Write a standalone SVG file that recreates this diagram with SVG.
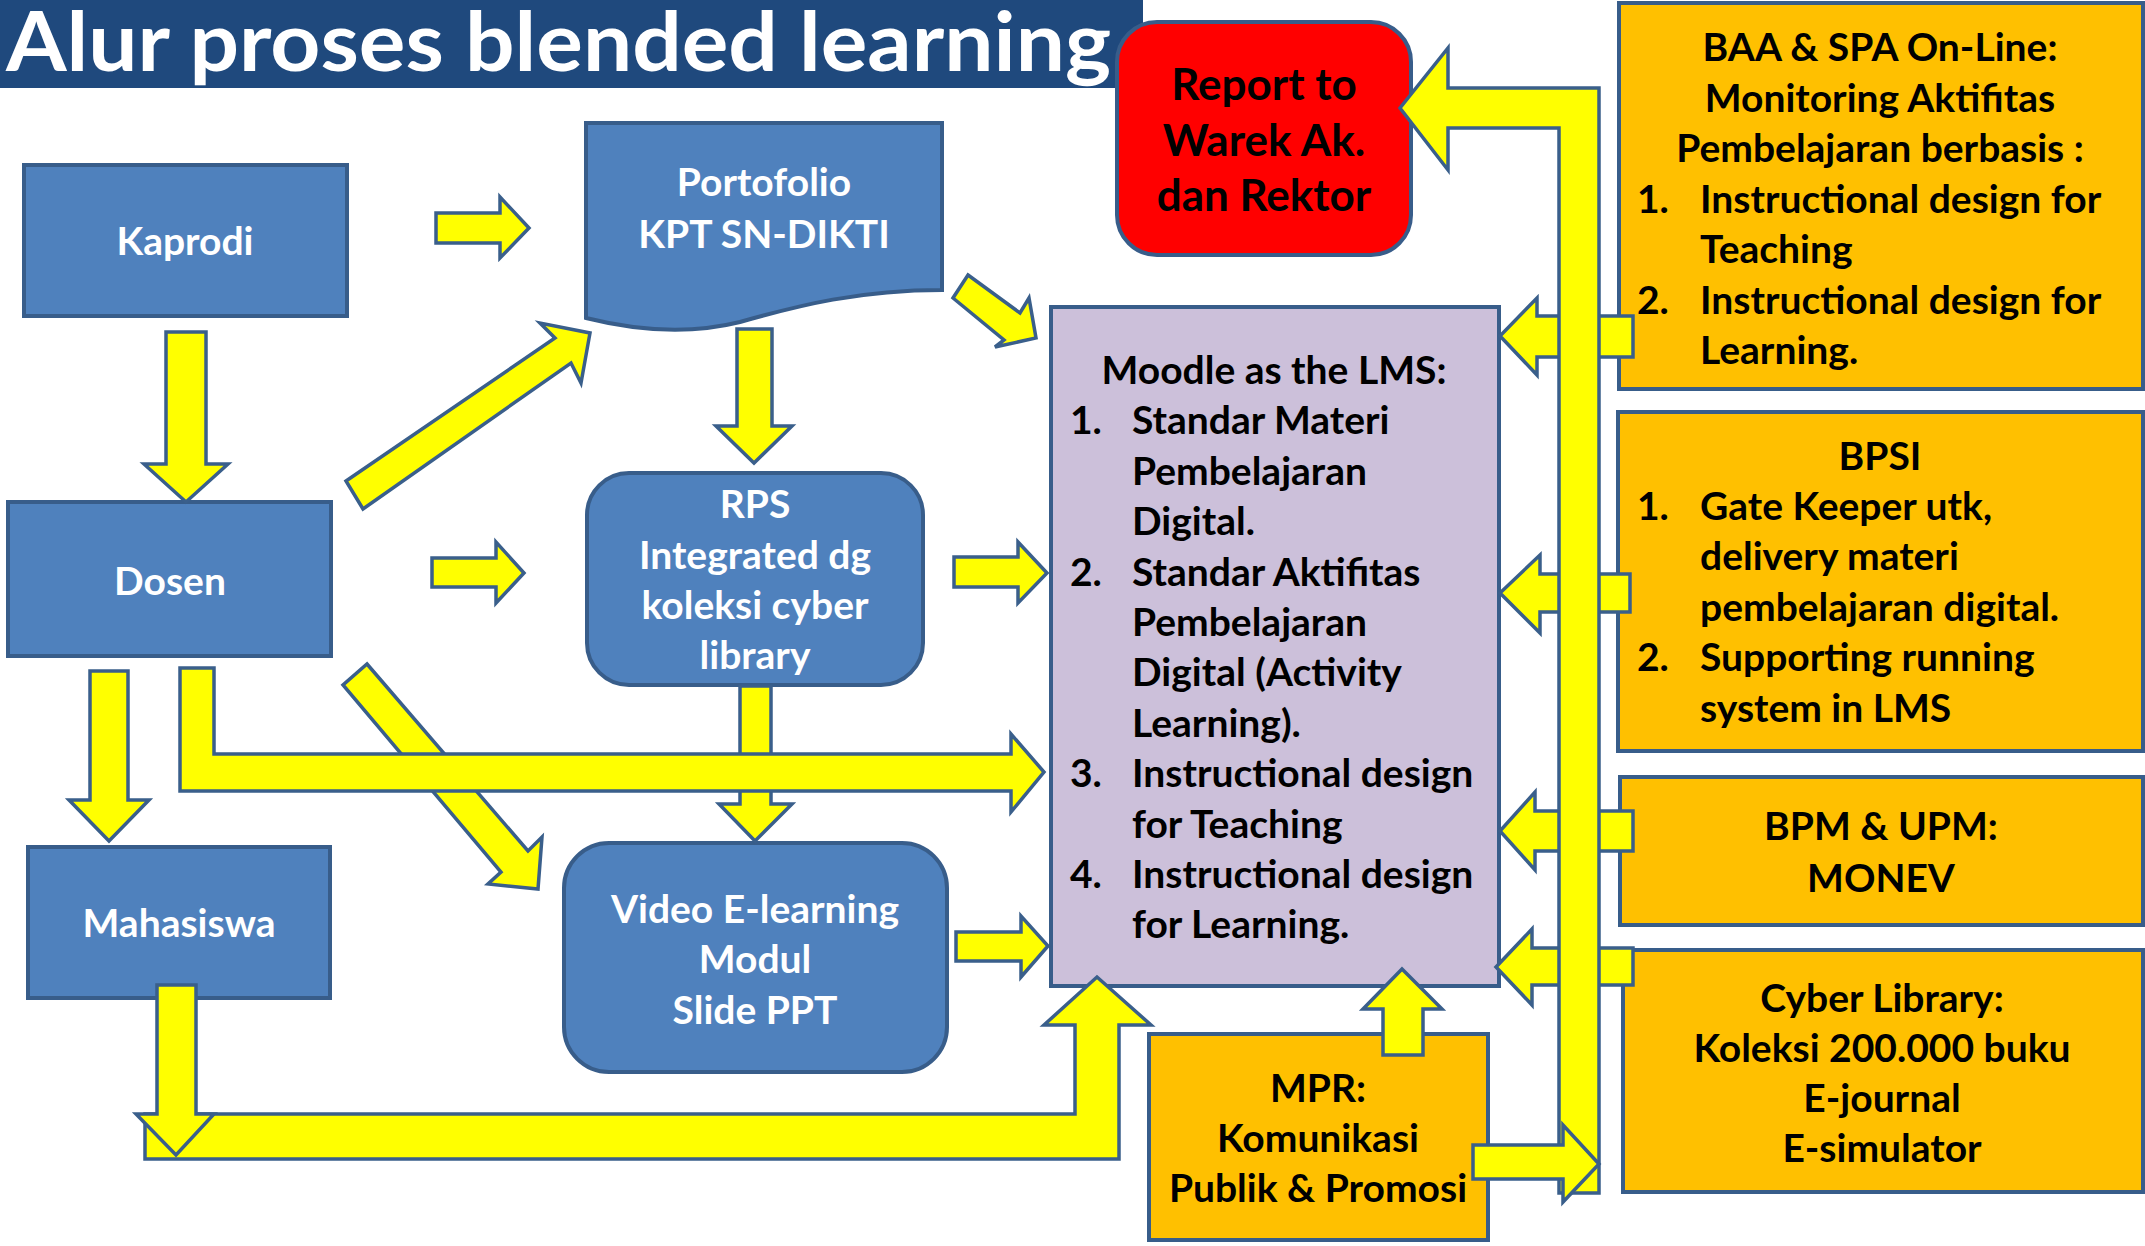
<svg xmlns="http://www.w3.org/2000/svg" width="2145" height="1246" viewBox="0 0 2145 1246">
<style>
.nb{fill:#4F81BD;stroke:#385D8A;stroke-width:4}
.nr{fill:#FF0000;stroke:#385D8A;stroke-width:4}
.nl{fill:#CCC0DA;stroke:#385D8A;stroke-width:4}
.no{fill:#FFC000;stroke:#385D8A;stroke-width:4}
.ar{fill:#FFFF00;stroke:#3A5F8B;stroke-width:3.5;stroke-linejoin:miter}
text{font-family:Lato,"Open Sans","Liberation Sans",sans-serif;font-weight:700;font-size:39px}
.w{fill:#FFFFFF;text-anchor:middle}
.k{fill:#000000}
.c{text-anchor:middle}
</style>
<rect x="0" y="0" width="1143" height="88" fill="#1F497D"/>
<text x="6" y="71" fill="#FFFFFF" style="font-size:83px" textLength="1105" lengthAdjust="spacingAndGlyphs">Alur proses blended learning</text>

<g id="kaprodi">
<rect class="nb" x="24" y="165" width="323" height="151"/>
<text class="w" x="185" y="255">Kaprodi</text>
</g>
<g id="portofolio">
<path class="nb" d="M586,123 H942 V290 C860,290 800,305 740,322 C700,332 650,334 586,318 Z"/>
<text class="w" x="764" y="196">Portofolio</text>
<text class="w" x="764" y="248">KPT SN-DIKTI</text>
</g>
<g id="dosen">
<rect class="nb" x="8" y="502" width="323" height="154"/>
<text class="w" x="170" y="595">Dosen</text>
</g>
<g id="rps">
<rect class="nb" x="587" y="473" width="336" height="212" rx="42" ry="42"/>
<text class="w" x="755" y="518">RPS</text>
<text class="w" x="755" y="569">Integrated dg</text>
<text class="w" x="755" y="619">koleksi cyber</text>
<text class="w" x="755" y="669">library</text>
</g>
<g id="mahasiswa">
<rect class="nb" x="28" y="847" width="302" height="151"/>
<text class="w" x="179" y="937">Mahasiswa</text>
</g>
<g id="video">
<rect class="nb" x="564" y="843" width="383" height="229" rx="45" ry="45"/>
<text class="w" x="755" y="923">Video E-learning</text>
<text class="w" x="755" y="973">Modul</text>
<text class="w" x="755" y="1024">Slide PPT</text>
</g>
<g id="report">
<rect class="nr" x="1117" y="22" width="294" height="233" rx="40" ry="40"/>
<text class="k c" x="1264" y="100" style="font-size:44px">Report to</text>
<text class="k c" x="1264" y="156" style="font-size:44px">Warek Ak.</text>
<text class="k c" x="1264" y="211" style="font-size:44px">dan Rektor</text>
</g>
<g id="moodle">
<rect class="nl" x="1051" y="307" width="448" height="679"/>
<text class="k c" x="1274" y="384">Moodle as the LMS:</text>
<text class="k" x="1070" y="434">1.</text><text class="k" x="1132" y="434">Standar Materi</text>
<text class="k" x="1132" y="485">Pembelajaran</text>
<text class="k" x="1132" y="535">Digital.</text>
<text class="k" x="1070" y="586">2.</text><text class="k" x="1132" y="586">Standar Aktifitas</text>
<text class="k" x="1132" y="636">Pembelajaran</text>
<text class="k" x="1132" y="686">Digital (Activity</text>
<text class="k" x="1132" y="737">Learning).</text>
<text class="k" x="1070" y="787">3.</text><text class="k" x="1132" y="787">Instructional design</text>
<text class="k" x="1132" y="838">for Teaching</text>
<text class="k" x="1070" y="888">4.</text><text class="k" x="1132" y="888">Instructional design</text>
<text class="k" x="1132" y="938">for Learning.</text>
</g>
<g id="baa">
<rect class="no" x="1619" y="3" width="524" height="386"/>
<text class="k c" x="1880" y="61">BAA &amp; SPA On-Line:</text>
<text class="k c" x="1880" y="112">Monitoring Aktifitas</text>
<text class="k c" x="1880" y="162">Pembelajaran berbasis :</text>
<text class="k" x="1637" y="213">1.</text><text class="k" x="1700" y="213">Instructional design for</text>
<text class="k" x="1700" y="263">Teaching</text>
<text class="k" x="1637" y="314">2.</text><text class="k" x="1700" y="314">Instructional design for</text>
<text class="k" x="1700" y="364">Learning.</text>
</g>
<g id="bpsi">
<rect class="no" x="1618" y="412" width="525" height="339"/>
<text class="k c" x="1880" y="470">BPSI</text>
<text class="k" x="1637" y="520">1.</text><text class="k" x="1700" y="520">Gate Keeper utk,</text>
<text class="k" x="1700" y="570">delivery materi</text>
<text class="k" x="1700" y="621">pembelajaran digital.</text>
<text class="k" x="1637" y="671">2.</text><text class="k" x="1700" y="671">Supporting running</text>
<text class="k" x="1700" y="722">system in LMS</text>
</g>
<g id="bpm">
<rect class="no" x="1620" y="777" width="523" height="148"/>
<text class="k c" x="1881" y="840">BPM &amp; UPM:</text>
<text class="k c" x="1881" y="892">MONEV</text>
</g>
<g id="cyber">
<rect class="no" x="1623" y="950" width="520" height="242"/>
<text class="k c" x="1882" y="1012">Cyber Library:</text>
<text class="k c" x="1882" y="1062">Koleksi 200.000 buku</text>
<text class="k c" x="1882" y="1112">E-journal</text>
<text class="k c" x="1882" y="1162">E-simulator</text>
</g>
<g id="mpr">
<rect class="no" x="1149" y="1034" width="339" height="206"/>
<text class="k c" x="1318" y="1102">MPR:</text>
<text class="k c" x="1318" y="1152">Komunikasi</text>
<text class="k c" x="1318" y="1202">Publik &amp; Promosi</text>
</g>

<g id="connectors">
<path class="ar" d="M436,213 H500 V197 L529,228 L500,258 V243 H436 Z"/>
<path class="ar" d="M166,332 H206 V464 H228 L186,502 L144,464 H166 Z"/>
<path class="ar" d="M346,481 L555,338 L540,323 L590,333 L581,383 L571,363 L363,509 Z"/>
<path class="ar" d="M737,329 H772 V426 H792 L754,463 L716,426 H737 Z"/>
<path class="ar" d="M968,275 L1020,313 L1029,298 L1036,338 L995,347 L1004,340 L953,298 Z"/>
<path class="ar" d="M432,558 H496 V542 L524,573 L496,603 V587 H432 Z"/>
<path class="ar" d="M954,557 H1018 V542 L1047,573 L1018,603 V587 H954 Z"/>
<path class="ar" d="M740,686 H771 V804 H792 L755,841 L719,804 H740 Z"/>
<path class="ar" d="M367,664 L528,851 L542,837 L538,889 L488,884 L501,872 L343,685 Z"/>
<path class="ar" d="M90,671 H128 V800 H149 L109,841 L69,800 H90 Z"/>
<path class="ar" d="M180,668 H214 V754 H1011 V734 L1044,772 L1011,812 V791 H180 Z"/>
<path class="ar" d="M956,932 H1021 V916 L1048,946 L1021,977 V961 H956 Z"/>
<path class="ar" d="M145,1114 H1075 V1025 H1044 L1097,977 L1151,1025 H1119 V1159 H145 Z"/>
<path class="ar" d="M157,985 H196 V1114 H214 L176,1155 L136,1114 H157 Z"/>
<path class="ar" d="M1383,1055 V1009 H1363 L1402,969 L1442,1009 H1423 V1055 Z"/>
<path class="ar" d="M1633,316 V357 H1537 V375 L1500,336 L1537,298 V316 Z"/>
<path class="ar" d="M1630,574 V612 H1540 V633 L1500,593 L1540,555 V574 Z"/>
<path class="ar" d="M1633,811 V851 H1535 V870 L1500,831 L1535,792 V811 Z"/>
<path class="ar" d="M1633,948 V985 H1532 V1005 L1496,967 L1532,929 V948 Z"/>
<path class="ar" d="M1400,108 L1448,48 V88 H1599 V1193 H1559 V128 H1448 V170 Z"/>
<path class="ar" d="M1473,1145 H1563 V1125 L1599,1164 L1563,1202 V1179 H1473 Z"/>
</g>
</svg>
